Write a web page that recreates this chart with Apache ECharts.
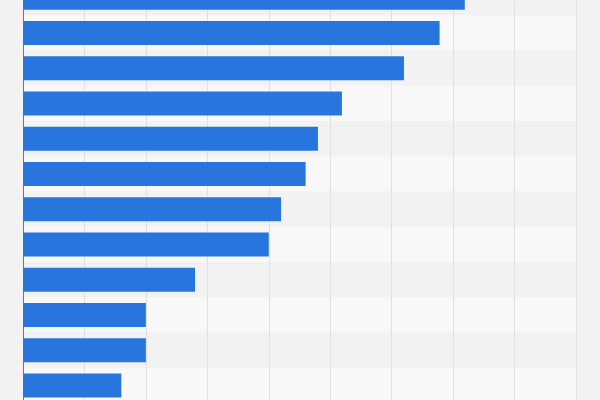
<!DOCTYPE html><html><head><meta charset="utf-8"><script src="https://cdn.jsdelivr.net/npm/echarts@6/dist/echarts.min.js"></script>
<style>html,body{margin:0;background:#f2f2f2;overflow:hidden}#c{width:600px;height:423px;position:absolute;top:-20px;left:0}</style></head><body><div id="c"></div><script>
const categories=['A','B','C','D','E','F','G','H','I','J','K','L'];
const values=[7.19,6.78,6.2,5.19,4.8,4.6,4.2,4.0,2.8,2.0,2.0,1.6];
const chart=echarts.init(document.getElementById('c'));
chart.setOption({backgroundColor:'#f2f2f2',animation:false,
grid:{left:23,right:24,top:0,bottom:0},
xAxis:{type:'value',min:0,max:9,interval:1,axisLabel:{show:false},axisLine:{show:false},axisTick:{show:false},splitLine:{lineStyle:{color:'#e0e0e0'}}},
yAxis:{type:'category',inverse:true,data:categories,axisLabel:{show:false},axisTick:{show:false},axisLine:{lineStyle:{color:'#777'}},splitArea:{show:true,areaStyle:{color:['#f2f2f2','#f8f8f8']}}},
series:[{type:'bar',data:values,barWidth:24,itemStyle:{color:'#2876dd'}}]});
</script></body></html>
